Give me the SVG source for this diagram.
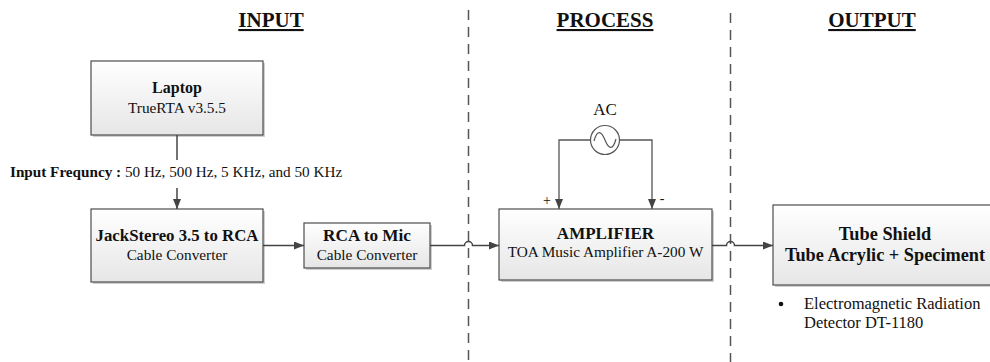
<svg xmlns="http://www.w3.org/2000/svg" width="990" height="362" viewBox="0 0 990 362">
<style>
.box{fill:url(#g);stroke:#4d4d4d;stroke-width:1.2}
.sh{fill:#cfcfcf}
.t{font-family:"Liberation Serif","Times New Roman",serif;fill:#111;text-anchor:middle}
.b{font-weight:bold;font-size:17px}
.s{font-size:15.3px}
.h{font-weight:bold;font-size:21px;text-decoration:underline}
.c{fill:none;stroke:#444;stroke-width:1.5}
.w{fill:none;stroke:#555;stroke-width:1.3}
.d{stroke:#555;stroke-width:1.5;stroke-dasharray:10 7;fill:none}
</style>
<defs>
<linearGradient id="g" x1="0" y1="0" x2="0" y2="1">
<stop offset="0" stop-color="#ffffff"/>
<stop offset="1" stop-color="#e6e6e6"/>
</linearGradient>
<marker id="a" markerWidth="10" markerHeight="8" refX="10" refY="4" orient="auto" markerUnits="userSpaceOnUse">
<path d="M0,0 L10,4 L0,8 Z" fill="#444"/>
</marker>
</defs>
<rect width="990" height="362" fill="#fff"/>
<g id="dividers">
<line class="d" x1="468.5" y1="10" x2="468.5" y2="362"/>
<line class="d" x1="730.5" y1="13" x2="730.5" y2="362"/>
</g>
<g id="headings">
<text class="t h" x="271" y="27">INPUT</text>
<text class="t h" x="605" y="27">PROCESS</text>
<text class="t h" x="872" y="27">OUTPUT</text>
</g>
<g id="laptop">
<rect class="sh" x="93" y="63" width="172" height="74"/>
<rect class="box" x="91" y="61" width="172" height="74"/>
<text class="t b" x="177" y="93" style="font-size:16px">Laptop</text>
<text class="t s" x="177" y="113">TrueRTA v3.5.5</text>
</g>
<g id="jack">
<rect class="sh" x="93" y="211" width="172" height="73"/>
<rect class="box" x="91" y="209" width="172" height="73"/>
<text class="t b" x="177" y="241" style="font-size:16.8px">JackStereo 3.5 to RCA</text>
<text class="t s" x="177" y="260">Cable Converter</text>
</g>
<g id="rca">
<rect class="sh" x="306" y="225" width="126" height="45"/>
<rect class="box" x="304" y="223" width="126" height="45"/>
<text class="t b" x="367" y="241" style="font-size:17.2px">RCA to Mic</text>
<text class="t s" x="367" y="260">Cable Converter</text>
</g>
<g id="amplifier">
<rect class="sh" x="501" y="211" width="213" height="71"/>
<rect class="box" x="499" y="209" width="213" height="71"/>
<text class="t b" x="605.5" y="239">AMPLIFIER</text>
<text class="t s" x="605.5" y="257">TOA Music Amplifier A-200 W</text>
</g>
<g id="ac">
<circle cx="605" cy="140" r="14.5" fill="#fff" stroke="#555" stroke-width="1.2"/>
<path d="M594,141 C597,130 601,130 605,140 C609,150 613,150 616,139" fill="none" stroke="#555" stroke-width="1.2"/>
<text class="t" x="605" y="115" font-size="17">AC</text>
</g>
<g id="tube">
<rect class="sh" x="775" y="207" width="224" height="80"/>
<rect class="box" x="773" y="205" width="224" height="80"/>
<text class="t b" x="885" y="240" style="font-size:18.3px">Tube Shield</text>
<text class="t b" x="885" y="261" style="font-size:18.3px">Tube Acrylic + Speciment</text>
</g>
<g id="detector">
<circle cx="781" cy="304" r="2.3" fill="#111"/>
<text class="t" x="804" y="309" font-size="16.5" style="text-anchor:start">Electromagnetic Radiation</text>
<text class="t" x="804" y="328" font-size="16.5" style="text-anchor:start">Detector DT-1180</text>
</g>
<g id="connectors">
<path class="c" d="M177,135 V160"/>
<path class="c" d="M177,188 V209" marker-end="url(#a)"/>
<path class="c" d="M263,245.5 H304" marker-end="url(#a)"/>
<path class="c" d="M430,245.5 H464.5 A4,4 0 0 1 472.5,245.5 H499" marker-end="url(#a)"/>
<path class="c" d="M712,245.5 H726.5 A4,4 0 0 1 734.5,245.5 H773" marker-end="url(#a)"/>
<path class="w" d="M590.5,140 H559 V209" marker-end="url(#a)"/>
<path class="w" d="M619.5,140 H652 V209" marker-end="url(#a)"/>
<text class="t" x="547" y="205" font-size="14">+</text>
<text class="t" x="662" y="203" font-size="14">-</text>
<text class="t" x="10" y="177" font-size="15.2" style="text-anchor:start"><tspan font-weight="bold">Input Frequncy :</tspan> 50 Hz, 500 Hz, 5 KHz, and 50 KHz</text>
</g>
</svg>
